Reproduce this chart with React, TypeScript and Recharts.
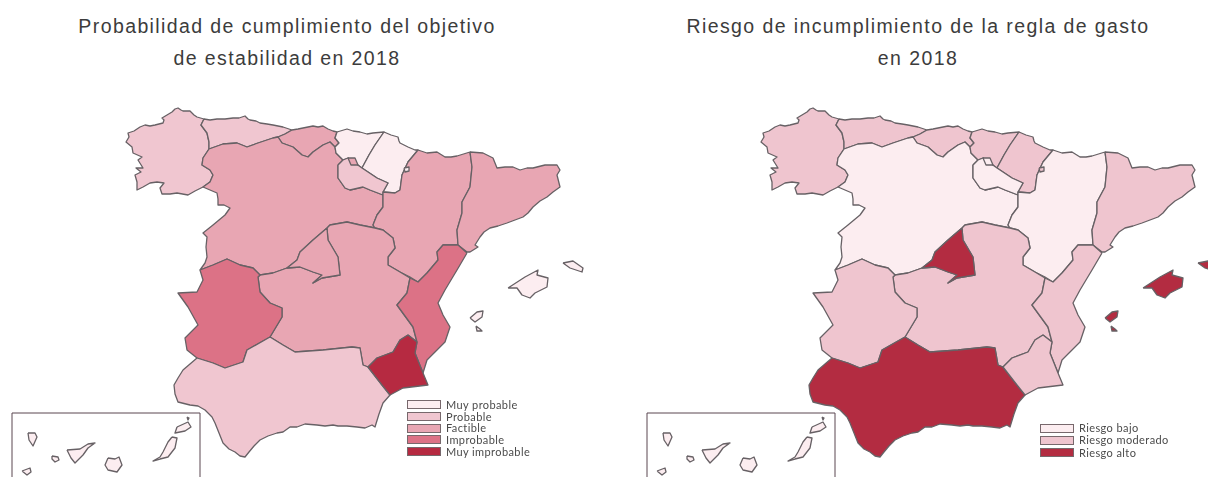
import React from 'react';
import { ScatterChart, Scatter, XAxis, YAxis, Legend } from 'recharts';

type Pt = [number, number];

// Outlines, in picture pixels
const galicia: Pt[] = [[209,149],[203,158],[202,165],[210,170],[213,175],[210,182],[203,187],[195,191],[188,195],[177,193],[170,194],[162,194],[160,188],[164,183],[157,182],[150,183],[143,187],[137,190],[137,182],[135,175],[141,172],[136,168],[143,168],[138,160],[142,157],[133,153],[132,147],[126,142],[129,137],[128,133],[134,131],[140,127],[145,125],[150,126],[155,125],[163,123],[164,120],[162,118],[167,115],[172,112],[175,109],[178,108],[181,110],[183,111],[190,111],[194,115],[197,117],[204,119],[201,125],[207,133],[209,142]];
const asturias: Pt[] = [[204,119],[210,120],[217,119],[225,119],[233,118],[239,118],[245,116],[248,119],[250,120],[256,121],[260,123],[267,124],[273,125],[283,127],[292,130],[285,134],[278,137],[273,138],[258,143],[247,147],[237,143],[223,144],[209,149],[209,142],[207,133],[201,125]];
const cantabria: Pt[] = [[292,130],[298,129],[303,128],[308,127],[313,126],[318,127],[323,126],[328,129],[333,131],[337,132],[335,138],[339,143],[335,147],[330,142],[323,145],[313,152],[308,157],[302,155],[293,147],[282,143],[278,137],[285,134]];
const paisVasco: Pt[] = [[337,132],[347,129],[353,131],[360,132],[367,134],[373,133],[384,132],[375,145],[369,155],[362,168],[355,163],[348,158],[343,160],[336,153],[335,147],[339,143],[335,138]];
const navarra: Pt[] = [[384,132],[391,135],[398,137],[399,141],[400,143],[408,147],[415,150],[418,150],[408,162],[402,175],[400,190],[395,193],[383,192],[388,183],[377,178],[362,168],[369,155],[375,145]];
const rioja: Pt[] = [[338,165],[343,160],[348,158],[355,163],[362,168],[377,178],[388,183],[383,192],[383,195],[370,190],[363,187],[350,190],[345,188],[338,178]];
const castillaLeon: Pt[] = [[209,149],[223,144],[237,143],[247,147],[258,143],[273,138],[278,137],[282,143],[293,147],[302,155],[308,157],[313,152],[323,145],[330,142],[335,147],[336,153],[343,160],[338,165],[338,178],[345,188],[350,190],[363,187],[370,190],[383,195],[383,207],[377,215],[373,225],[375,228],[360,225],[347,222],[330,225],[327,228],[313,240],[300,252],[297,260],[287,268],[273,273],[260,275],[253,268],[240,265],[227,259],[213,265],[200,270],[205,263],[207,257],[206,247],[207,237],[203,233],[208,229],[213,225],[219,220],[225,215],[230,208],[224,205],[218,205],[218,199],[217,193],[203,187],[210,182],[213,175],[210,170],[202,165],[203,158]];
const madrid: Pt[] = [[327,228],[313,240],[300,252],[297,260],[287,268],[300,267],[313,272],[322,275],[313,283],[322,278],[340,275],[338,257],[328,240]];
const aragon: Pt[] = [[418,150],[427,153],[437,152],[445,157],[451,157],[457,156],[470,152],[472,167],[470,187],[462,202],[462,213],[457,230],[458,245],[443,245],[437,252],[438,260],[427,273],[418,282],[410,277],[400,272],[388,265],[388,257],[395,248],[393,238],[383,230],[375,228],[373,225],[377,215],[383,207],[383,195],[383,192],[395,193],[400,190],[402,175],[408,162]];
const cataluna: Pt[] = [[470,152],[483,153],[493,158],[497,168],[505,167],[513,167],[520,170],[527,168],[533,168],[545,165],[557,165],[560,170],[557,175],[560,187],[553,192],[547,197],[540,201],[533,207],[528,213],[523,217],[515,220],[507,223],[498,226],[490,228],[484,232],[480,237],[475,245],[478,247],[470,252],[467,252],[458,245],[457,230],[462,213],[462,202],[470,187],[472,167]];
const valencia: Pt[] = [[467,253],[457,270],[451,280],[445,290],[438,303],[443,315],[450,327],[445,342],[436,351],[427,360],[423,373],[415,353],[417,342],[413,327],[397,305],[407,293],[410,278],[418,282],[427,273],[438,260],[437,252],[443,245],[458,245]];
const murcia: Pt[] = [[408,335],[417,342],[415,353],[423,373],[428,385],[403,388],[390,395],[382,385],[368,367],[377,358],[393,352],[400,340]];
const castillaMancha: Pt[] = [[327,228],[330,225],[347,222],[360,225],[375,228],[383,230],[393,238],[395,248],[388,257],[388,265],[400,272],[410,278],[407,293],[397,305],[413,327],[417,342],[408,335],[400,340],[393,352],[377,358],[368,367],[363,365],[360,348],[352,347],[323,350],[295,352],[283,345],[270,337],[282,317],[282,308],[270,303],[260,292],[258,277],[260,275],[273,273],[287,268],[300,267],[313,272],[322,275],[313,283],[322,278],[340,275],[338,257],[328,240]];
const extremadura: Pt[] = [[200,270],[213,265],[227,259],[240,265],[253,268],[260,275],[258,277],[260,292],[270,303],[282,308],[282,317],[270,337],[247,350],[243,362],[225,368],[213,363],[197,358],[187,350],[185,338],[198,325],[188,307],[178,293],[197,292],[203,280]];
const andalucia: Pt[] = [[270,337],[283,345],[295,352],[323,350],[352,347],[360,348],[363,365],[368,367],[382,385],[390,395],[383,403],[379,414],[375,427],[372,425],[365,428],[357,427],[347,426],[338,426],[333,425],[325,426],[317,425],[305,424],[297,427],[290,427],[283,432],[277,433],[268,436],[260,440],[254,446],[249,452],[245,457],[240,456],[235,452],[229,449],[223,443],[219,433],[217,428],[215,423],[212,417],[205,410],[198,406],[190,405],[178,402],[175,394],[174,385],[178,378],[183,370],[190,364],[197,358],[213,363],[225,368],[243,362],[247,350]];

// Small enclaves drawn over their surroundings
const trevino: Pt[] = [[348,158],[355,158],[358,165],[351,165]];
const petilla: Pt[] = [[404,168],[409,167],[409,171],[405,172]];

const mallorca: Pt[] = [[508,288],[525,277],[538,270],[537,275],[548,278],[547,287],[535,293],[530,298],[522,295],[517,288]];
const menorca: Pt[] = [[563,263],[573,261],[583,268],[582,272],[570,268]];
const ibiza: Pt[] = [[470,318],[477,312],[483,311],[482,317],[475,322]];
const formentera: Pt[] = [[476,326],[480,329],[482,331],[477,331]];

const laPalma: Pt[] = [[28,433],[35,433],[37,437],[33,446],[29,440]];
const gomera: Pt[] = [[52,456],[58,457],[59,460],[55,462],[52,459]];
const tenerife: Pt[] = [[67,450],[80,449],[88,444],[95,443],[88,448],[83,455],[75,463],[71,458]];
const granCanaria: Pt[] = [[108,458],[115,459],[119,457],[122,465],[117,472],[108,470],[105,465]];
const hierro: Pt[] = [[22,471],[30,468],[31,472],[27,475]];
const fuerteventura: Pt[] = [[172,437],[177,438],[175,448],[168,457],[160,459],[153,461],[160,457],[163,452],[168,442]];
const lanzarote: Pt[] = [[177,427],[188,422],[191,427],[185,431],[175,433]];
const graciosa: Pt[] = [[187,417],[189,418],[188,420]];
const canariasFrame: Pt[] = [[12,477],[12,413],[200,413],[200,477]];

const regionShapes: Pt[][] = [galicia, asturias, cantabria, castillaLeon, paisVasco, navarra, rioja, aragon, cataluna, castillaMancha, madrid, extremadura, valencia, andalucia, murcia, trevino, petilla, mallorca, menorca, ibiza, formentera, laPalma, gomera, tenerife, granCanaria, hierro, fuerteventura, lanzarote, graciosa];

// Class of each shape above, same order
const objetivoClasses = [1, 1, 2, 2, 0, 0, 1, 2, 2, 2, 2, 3, 3, 1, 4, 2, 0, 0, 0, 0, 0, 0, 0, 0, 0, 0, 0, 0, 0];
const reglaClasses = [1, 1, 1, 0, 1, 1, 0, 0, 1, 1, 2, 1, 1, 2, 1, 0, 1, 2, 2, 2, 2, 0, 0, 0, 0, 0, 0, 0, 0];

const objetivoLabels = ['Muy probable', 'Probable', 'Factible', 'Improbable', 'Muy improbable'];
const objetivoColors = ['#fcedf0', '#f0c6d0', '#e8a6b3', '#dc7286', '#b62a41'];
const reglaLabels = ['Riesgo bajo', 'Riesgo moderado', 'Riesgo alto'];
const reglaColors = ['#fcedf0', '#efc5cf', '#b32c41'];

const BORDER = '#676165';

const toPoints = (pts: Pt[]) => pts.map(([x, y]) => ({ x, y }));

interface MapPanelProps {
  left: number;
  titleLines: string[];
  titleCenter: number;
  classes: number[];
  colors: string[];
  labels: string[];
  legendLeft: number;
  legendTop: number;
  legendRow: number;
}

const MapPanel: React.FC<MapPanelProps> = ({ left, titleLines, titleCenter, classes, colors, labels, legendLeft, legendTop, legendRow }) => (
  <div style={{ position: 'absolute', left, top: 0, width: 600, height: 477 }}>
    {/* the source maps are soft, upscaled rasters */}
    <div style={{ filter: 'blur(0.45px)' }}>
      <ScatterChart width={600} height={477} margin={{ top: 0, right: 0, bottom: 0, left: 0 }}>
        <XAxis type="number" dataKey="x" domain={[0, 600]} hide />
        <YAxis type="number" dataKey="y" domain={[0, 477]} reversed hide />
        {/* horizontal + middle + center keeps the legend from taking room off the plot */}
        <Legend
          layout="horizontal"
          align="center"
          verticalAlign="middle"
          wrapperStyle={{ left: legendLeft, top: legendTop, width: 150 }}
          content={() => (
            <div style={{ fontFamily: 'Lato', fontSize: 11, lineHeight: `${legendRow}px`, color: '#4a4a4a', letterSpacing: 0.4 }}>
              {labels.map((label, i) => (
                <div key={label} style={{ height: legendRow, whiteSpace: 'nowrap', display: 'flex', alignItems: 'center' }}>
                  <span style={{ display: 'inline-block', boxSizing: 'border-box', width: 34, height: 9, marginRight: 5, background: colors[i], border: '1px solid #77686c' }} />
                  {label}
                </div>
              ))}
            </div>
          )}
        />
        <Scatter
          data={toPoints(canariasFrame)}
          shape={() => <g />}
          line={{ stroke: '#5b4650', strokeWidth: 1, fill: 'none' }}
          lineJointType="linear"
          isAnimationActive={false}
        />
        {regionShapes.map((shape, i) => (
          <Scatter
            key={i}
            data={toPoints([...shape, shape[0]])}
            shape={() => <g />}
            line={{ stroke: BORDER, strokeWidth: 1.3, strokeLinejoin: 'round', fill: colors[classes[i]] }}
            lineJointType="linear"
            isAnimationActive={false}
          />
        ))}
      </ScatterChart>
    </div>
    {titleLines.map((line, i) => (
      <div
        key={line}
        style={{ position: 'absolute', left: titleCenter - 300, width: 600, top: 13 + i * 32, textAlign: 'center', fontFamily: 'Liberation Sans', fontSize: 19.5, lineHeight: '26px', letterSpacing: 1.4, color: '#3c3c3c', whiteSpace: 'nowrap' }}
      >
        {line}
      </div>
    ))}
  </div>
);

export default function App() {
  return (
    <div style={{ position: 'absolute', left: 0, top: 0, width: 1208, height: 477, overflow: 'hidden', background: '#fff' }}>
      <MapPanel
        left={0}
        titleLines={['Probabilidad de cumplimiento del objetivo', 'de estabilidad en 2018']}
        titleCenter={287}
        classes={objetivoClasses}
        colors={objetivoColors}
        labels={objetivoLabels}
        legendLeft={407}
        legendTop={399}
        legendRow={11.7}
      />
      <MapPanel
        left={635}
        titleLines={['Riesgo de incumplimiento de la regla de gasto', 'en 2018']}
        titleCenter={283}
        classes={reglaClasses}
        colors={reglaColors}
        labels={reglaLabels}
        legendLeft={405}
        legendTop={422}
        legendRow={12.3}
      />
    </div>
  );
}
